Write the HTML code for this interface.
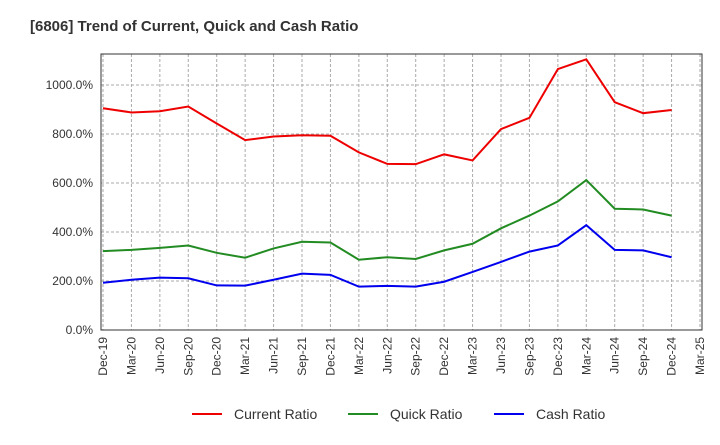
<!DOCTYPE html>
<html><head><meta charset="utf-8"><style>
body{margin:0;background:#fff;font-family:"Liberation Sans",sans-serif;}
</style></head><body>
<svg id="chart" width="720" height="440" xmlns="http://www.w3.org/2000/svg">
<text x="30" y="31" font-size="15" font-weight="bold" fill="#333">[6806]  Trend of Current, Quick and Cash Ratio</text>
<g id="grid"></g><g id="axes"></g><g id="series"></g>
<g font-size="14" fill="#333">
<line x1="192" y1="414" x2="222" y2="414" stroke="#e00" stroke-width="2"/>
<text x="234" y="419">Current Ratio</text>
<line x1="348" y1="414" x2="378" y2="414" stroke="#228b22" stroke-width="2"/>
<text x="390" y="419">Quick Ratio</text>
<line x1="494" y1="414" x2="524" y2="414" stroke="#00e" stroke-width="2"/>
<text x="536" y="419">Cash Ratio</text>
</g>
</svg>
<script>
const xLabels=["Dec-19","Mar-20","Jun-20","Sep-20","Dec-20","Mar-21","Jun-21","Sep-21","Dec-21","Mar-22","Jun-22","Sep-22","Dec-22","Mar-23","Jun-23","Sep-23","Dec-23","Mar-24","Jun-24","Sep-24","Dec-24","Mar-25"];
const yTicks=[0,200,400,600,800,1000];
const currentRatio=[905,888,893,912,843,775,790,795,793,725,678,677,717,692,820,866,1065,1105,930,885,898];
const quickRatio=[322,327,335,345,315,295,333,360,357,287,297,290,325,352,415,467,525,612,495,492,467];
const cashRatio=[193,205,214,211,182,181,205,230,225,177,180,177,197,237,278,320,345,428,327,325,297];
const L=101,R=702,T=54,B=330;
const NS="http://www.w3.org/2000/svg";
const xs=i=>L+2+i*(R-L-4)/(xLabels.length-1);
const ys=v=>B-v*0.245;
function mk(tag,attrs,parent){const e=document.createElementNS(NS,tag);for(const k in attrs)e.setAttribute(k,attrs[k]);document.getElementById(parent).appendChild(e);return e;}
xLabels.forEach((lab,i)=>{
 const g=mk('line',{x1:xs(i),x2:xs(i),y1:T,y2:B,stroke:'#aaa','stroke-dasharray':'3,2','stroke-width':1},'grid');
 
 
 const t=mk('text',{x:0,y:0,'font-size':12,fill:'#333','text-anchor':'end',transform:`translate(${xs(i)+4},${B+7}) rotate(-90)`},'axes');
 t.textContent=lab;
 
 
});
yTicks.forEach(v=>{
 const g=mk('line',{x1:L,x2:R,y1:ys(v),y2:ys(v),stroke:'#aaa','stroke-dasharray':'3,2','stroke-width':1},'grid');
 
 
 const t=mk('text',{x:L-8,y:ys(v)+4,'font-size':12,fill:'#333','text-anchor':'end'},'axes');
 t.textContent=v.toFixed(1)+'%';
 
 
});
const fr=mk('rect',{x:L,y:T,width:R-L,height:B-T,fill:'none',stroke:'#333','stroke-width':1},'axes');


[[currentRatio,'#e00','current-ratio-line'],[quickRatio,'#228b22','quick-ratio-line'],[cashRatio,'#00e','cash-ratio-line']].forEach(([d,c,n])=>{
 const p=mk('polyline',{points:d.map((v,i)=>xs(i)+','+ys(v)).join(' '),fill:'none',stroke:c,'stroke-width':2},'series');
 
 
});
</script>
</body></html>
